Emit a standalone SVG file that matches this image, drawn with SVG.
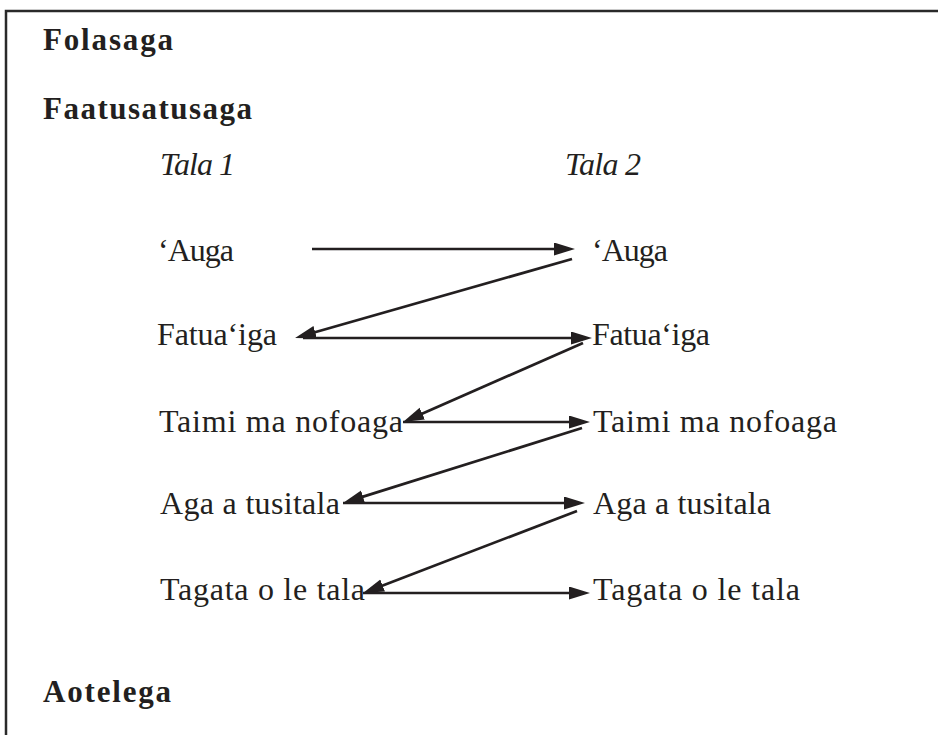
<svg xmlns="http://www.w3.org/2000/svg" width="938" height="735" viewBox="0 0 938 735">
<defs>
<style>
text{font-family:"Liberation Serif","Times New Roman",serif;fill:#231f20}
.h{font-weight:bold;font-size:31px}
.i{font-style:italic;font-size:32px}
.t{font-size:32px}
.c line{stroke:#231f20;stroke-width:2.7;marker-end:url(#ah)}
</style>
<marker id="ah" markerUnits="userSpaceOnUse" markerWidth="22" markerHeight="14" refX="4" refY="6.5" orient="auto">
<path d="M0,0 L21,6.5 L0,13 Z" fill="#231f20"/>
</marker>
</defs>
<rect width="938" height="735" fill="#fff"/>
<path d="M6,736 V11 H940" fill="none" stroke="#2a2a2a" stroke-width="2.5"/>
<g id="headings">
<text class="h" x="43" y="50" textLength="130" lengthAdjust="spacing">Folasaga</text>
<text class="h" x="43" y="119" textLength="209" lengthAdjust="spacing">Faatusatusaga</text>
<text class="h" x="43" y="702" textLength="128" lengthAdjust="spacing">Aotelega</text>
</g>
<g id="col1">
<text class="i" x="160" y="175" textLength="75" lengthAdjust="spacing">Tala 1</text>
</g>
<g id="col2">
<text class="i" x="565" y="175" textLength="76" lengthAdjust="spacing">Tala 2</text>
</g>
<g id="l-auga"><text class="t" x="158" y="261" textLength="76" lengthAdjust="spacing">‘Auga</text></g>
<g id="r-auga"><text class="t" x="592" y="261" textLength="76" lengthAdjust="spacing">‘Auga</text></g>
<g id="l-fatuaiga"><text class="t" x="157" y="345" textLength="120" lengthAdjust="spacing">Fatua‘iga</text></g>
<g id="r-fatuaiga"><text class="t" x="592" y="345" textLength="118" lengthAdjust="spacing">Fatua‘iga</text></g>
<g id="l-taimi"><text class="t" x="159" y="432" textLength="244" lengthAdjust="spacing">Taimi ma nofoaga</text></g>
<g id="r-taimi"><text class="t" x="593" y="432" textLength="244" lengthAdjust="spacing">Taimi ma nofoaga</text></g>
<g id="l-aga"><text class="t" x="160" y="514" textLength="180" lengthAdjust="spacing">Aga a tusitala</text></g>
<g id="r-aga"><text class="t" x="593" y="514" textLength="178" lengthAdjust="spacing">Aga a tusitala</text></g>
<g id="l-tagata"><text class="t" x="160" y="600" textLength="205" lengthAdjust="spacing">Tagata o le tala</text></g>
<g id="r-tagata"><text class="t" x="593" y="600" textLength="207" lengthAdjust="spacing">Tagata o le tala</text></g>
<g id="connectors" class="c">
<line x1="312" y1="249" x2="558" y2="249"/>
<line x1="572" y1="259" x2="311.4" y2="333.3"/>
<line x1="303" y1="338" x2="575" y2="338"/>
<line x1="583" y1="343" x2="418.6" y2="415.2"/>
<line x1="403" y1="422" x2="573" y2="422"/>
<line x1="582" y1="428" x2="359.2" y2="497.9"/>
<line x1="343" y1="503" x2="568" y2="503"/>
<line x1="577" y1="511" x2="378.9" y2="586.9"/>
<line x1="363" y1="593" x2="573" y2="593"/>
</g>
</svg>
